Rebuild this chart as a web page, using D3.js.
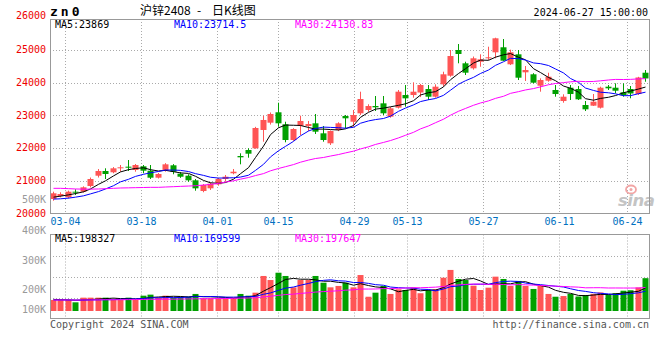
<!DOCTYPE html>
<html><head><meta charset="utf-8">
<script src="https://cdn.jsdelivr.net/npm/d3@7"></script>
<style>body{margin:0;background:#fff;} svg{display:block;}</style>
</head><body>
<svg id="c" width="660" height="360"></svg>
<script>
// ---------------- DATA ----------------
const dates = ["02-29","03-01","03-04","03-05","03-06","03-07","03-08","03-11","03-12","03-13",
"03-14","03-15","03-18","03-19","03-20","03-21","03-22","03-25","03-26","03-27",
"03-28","03-29","04-01","04-02","04-03","04-08","04-09","04-10","04-11","04-12",
"04-15","04-16","04-17","04-18","04-19","04-22","04-23","04-24","04-25","04-26",
"04-29","04-30","05-06","05-07","05-08","05-09","05-10","05-13","05-14","05-15",
"05-16","05-17","05-20","05-21","05-22","05-23","05-24","05-27","05-28","05-29",
"05-30","05-31","06-03","06-04","06-05","06-06","06-07","06-11","06-12","06-13",
"06-14","06-17","06-18","06-19","06-20","06-21","06-24","06-25","06-26","06-27"];

const open  = [20443,20535,20495,20667,20667,20841,21156,21300,21260,21382,
21432,21330,21443,21309,21095,21309,21474,21217,21156,21015,
20688,20770,20893,21055,21230,21758,21942,21994,22554,22777,
23095,22728,22248,22685,22676,22758,22452,22147,22554,22982,
22807,23064,23165,23287,23369,22961,23236,23623,23623,23700,
23807,23572,23950,24214,25000,24593,24440,24642,24746,24929,
25083,24563,24868,24318,24257,23908,24061,23777,23440,23847,
23807,23318,23297,23236,23878,23847,23706,23807,23654,24305];
const close = [20618,20596,20667,20636,20801,21055,21300,21208,21382,21413,
21400,21483,21309,21095,21208,21504,21278,21125,21015,20770,
20872,20911,21055,21125,21278,21718,21829,22615,22860,23043,
22758,22248,22584,22829,22737,22502,22248,22523,22758,22911,
23012,23501,23287,23247,23064,23216,23725,23522,23725,23929,
23572,23878,24257,24816,24878,24306,24746,24715,24777,25358,
24673,24930,24153,24388,24000,24082,24183,23654,23572,23654,
23492,23186,23419,23847,23828,23755,23620,23670,24160,24130];
const high  = [20667,20648,20700,20740,20830,21100,21360,21382,21420,21483,
21636,21514,21483,21483,21240,21540,21510,21270,21200,21055,
20900,20950,21090,21177,21361,21841,21994,22650,22991,23090,
23388,22807,22610,22991,22830,23043,22676,22540,22790,23012,
23165,23725,23340,23593,23593,23260,23777,23929,24012,23960,
23929,23950,24336,25000,25183,24642,24800,24868,25101,25376,
25336,25010,25000,24510,24290,24134,24305,23929,23645,23929,
23900,23440,23654,23878,23929,23980,23980,23899,24180,24388];
const low   = [20391,20495,20460,20566,20640,20800,21100,21055,21230,21278,
21300,21278,21230,21055,21070,21280,21200,21090,20970,20697,
20650,20720,20850,20972,21199,21504,21706,21980,22196,22720,
22654,22177,22220,22400,22520,22431,22196,22095,22520,22605,
22654,23012,23110,23134,23012,22930,23210,23266,23541,23560,
23471,23541,23878,24183,24593,24235,24400,24489,24694,24746,
24664,24540,24082,24052,23980,23725,24030,23572,23388,23471,
23471,23134,23287,23210,23777,23675,23572,23523,23623,24030];
const volume = [95000,95000,95000,75000,115000,115000,115000,115000,95000,95000,
115000,101000,132000,141000,115000,132000,115000,123000,123000,147000,
110000,110000,110000,110000,115000,147000,132000,158000,302000,267000,
330000,302000,204000,267000,267000,302000,244000,204000,216000,244000,
204000,310000,123000,158000,216000,147000,187000,181000,201000,153000,
181000,187000,287000,354000,276000,267000,218000,181000,201000,296000,
276000,216000,259000,216000,190000,216000,147000,123000,129000,147000,
125000,138000,148000,160000,140000,153000,175000,179000,203000,283000];

// moving-average values at the left edge (need days before the window)
const ma5Head  = [20500,20530,20570,20610];
const ma10Head = [20440,20450,20470,20500,20540,20600,20670,20750,20850];
const ma30Head = [20770,20770,20760,20750,20745,20745,20750,20760,20770,20780,
20785,20790,20795,20800,20800,20810,20820,20830,20840,20850,
20870,20890,20920,20960,21000,21050,21100,21160,21220];
const vma5Head  = [100000,98000,96000,92000];
const vma10Head = [95000,95000,95000,94000,94000,95000,96000,97000,98000];
const vma30Head = [95000,95000,95000,94000,95000,96000,96000,97000,97000,97000,
98000,99000,100000,101000,101000,102000,102000,103000,104000,105000,
105000,106000,107000,108000,109000,111000,112000,114000,121000];

const priceTicks = [20000,21000,22000,23000,24000,25000,26000];
const volTicks = [100000,200000,300000,400000];
const volTickLabels = ["100K","200K","300K","400K"];
const dateTicks = ["03-04","03-18","04-01","04-15","04-29","05-13","05-27","06-11","06-24"];
const maText  = ["MA5:23869","MA10:23714.5","MA30:24130.83"];
const vmaText = ["MA5:198327","MA10:169599","MA30:197647"];

// ---------------- LAYOUT ----------------
const svg = d3.select("#c");
const L = 50, R = 650;
const mTop = 19, mBot = 213.5;
const vTop = 234.5, vBot = 318.5, vBase = 311;
const RED = "#ff5555", GREEN = "#00a000", GRID = "#aaa", BORDER = "#999";
const MONO = "'DejaVu Sans Mono', monospace";
const maColors = ["#000000", "#0000ff", "#ff00ff"];

const xBand = d3.scaleBand().domain(dates).range([L, R]);
const xGrid = d3.scalePoint().domain(dates).range([L, R]);
const bw = 6;
const cx = d => Math.floor(xBand(d)) + 3.5;
const yP = d3.scaleLinear().domain([20000, 26000]).range([mBot, 17.3]);
const yV = d3.scaleLinear().domain([0, 100000]).range([vBase, vBase - 11.6]);
const yVLabel = d3.scaleLinear().domain(volTicks).range([313.3, 293.3, 264.3, 234]);

function movingAvg(vals, n, head) {
  return vals.map((v, i) => i < n - 1 ? head[i] : d3.mean(vals.slice(i - n + 1, i + 1)));
}

const defs = svg.append("defs");
defs.append("clipPath").attr("id", "cm").append("rect")
  .attr("x", L).attr("y", mTop).attr("width", R - L).attr("height", mBot - mTop);
defs.append("clipPath").attr("id", "cv").append("rect")
  .attr("x", L).attr("y", vTop).attr("width", R - L).attr("height", vBot - vTop);

// ---------------- GRID ----------------
const grid = svg.append("g").attr("stroke", GRID).attr("stroke-dasharray", "1,2").attr("stroke-width", 1);
priceTicks.filter(t => t > 20000 && t < 26000).forEach(t => {
  const y = Math.round(yP(t)) + 0.5;
  grid.append("line").attr("x1", L).attr("x2", R).attr("y1", y).attr("y2", y);
});
[1, 2, 3].forEach(k => {
  const y = Math.round(vTop + (vBot - vTop) * k / 4) + 0.5;
  grid.append("line").attr("x1", L).attr("x2", R).attr("y1", y).attr("y2", y);
});
dateTicks.forEach(d => {
  const x = Math.round(xGrid(d)) + 0.5;
  grid.append("line").attr("x1", x).attr("x2", x).attr("y1", mTop).attr("y2", mBot);
  grid.append("line").attr("x1", x).attr("x2", x).attr("y1", vTop).attr("y2", vBot);
});

// sina watermark
const wm = svg.append("g");
wm.append("ellipse").attr("cx", 631).attr("cy", 189.5).attr("rx", 5).attr("ry", 4)
  .attr("fill", "none").attr("stroke", "#f2a5a5").attr("stroke-width", 1.8);
wm.append("circle").attr("cx", 631).attr("cy", 189.5).attr("r", 1.5).attr("fill", "#f2a5a5");
wm.append("text").attr("x", 618).attr("y", 205.5).text("sina")
  .attr("font-family", "'DejaVu Sans', sans-serif").attr("font-size", 16.5).attr("font-weight", "bold")
  .attr("font-style", "italic").attr("fill", "#c4c4c4").attr("letter-spacing", -0.5);

// ---------------- CANDLES ----------------
const candles = svg.append("g").attr("clip-path", "url(#cm)");
dates.forEach((d, i) => {
  const up = close[i] >= open[i];
  const col = up ? RED : GREEN;
  const x = Math.floor(xBand(d));
  candles.append("line").attr("x1", x + 3.5).attr("x2", x + 3.5)
    .attr("y1", yP(high[i])).attr("y2", yP(low[i])).attr("stroke", col).attr("stroke-width", 1);
  const y1 = yP(Math.max(open[i], close[i])), y2 = yP(Math.min(open[i], close[i]));
  candles.append("rect").attr("x", x + 0.5).attr("width", bw).attr("y", y1)
    .attr("height", Math.max(1, y2 - y1)).attr("fill", col);
});

const line = (ys) => d3.line().x((d, i) => cx(dates[i])).y(d => ys(d));
const priceMAs = [movingAvg(close, 5, ma5Head), movingAvg(close, 10, ma10Head), movingAvg(close, 30, ma30Head)];
const maG = svg.append("g").attr("clip-path", "url(#cm)");
priceMAs.forEach((arr, k) => {
  maG.append("path").attr("d", line(yP)(arr)).attr("fill", "none")
    .attr("stroke", maColors[k]).attr("stroke-width", 1);
});

// ---------------- VOLUME ----------------
const vol = svg.append("g").attr("clip-path", "url(#cv)");
dates.forEach((d, i) => {
  const col = close[i] >= open[i] ? RED : GREEN;
  const x = Math.floor(xBand(d));
  vol.append("rect").attr("x", x + 0.5).attr("width", bw)
    .attr("y", yV(volume[i])).attr("height", vBase - yV(volume[i])).attr("fill", col);
});
const volMAs = [movingAvg(volume, 5, vma5Head), movingAvg(volume, 10, vma10Head), movingAvg(volume, 30, vma30Head)];
volMAs.forEach((arr, k) => {
  vol.append("path").attr("d", line(yV)(arr)).attr("fill", "none")
    .attr("stroke", maColors[k]).attr("stroke-width", 1);
});

// ---------------- BORDERS ----------------
const b = svg.append("g").attr("fill", "none").attr("stroke", BORDER).attr("stroke-width", 1);
b.append("rect").attr("x", L + 0.5).attr("y", mTop + 0.5).attr("width", 599).attr("height", mBot - mTop - 0.5);
b.append("rect").attr("x", L + 0.5).attr("y", vTop).attr("width", 599).attr("height", vBot - vTop);

// ---------------- TEXT ----------------
const txt = (x, y, s, opt = {}) => svg.append("text").attr("x", x).attr("y", y).text(s)
  .attr("font-family", opt.font || MONO).attr("font-size", opt.size || 10)
  .attr("fill", opt.fill || "#000").attr("text-anchor", opt.anchor || "start")
  .attr("font-weight", opt.weight || "normal").attr("letter-spacing", opt.ls || 0);

txt(50, 15.5, "zn0", { size: 13, weight: "bold", ls: 3 });
txt(140, 15, "沪锌2408", { font: "'Noto Sans CJK SC', sans-serif", size: 12 });
txt(197, 15, "-", { font: "'Noto Sans CJK SC', sans-serif", size: 12 });
txt(212, 15, "日K线图", { font: "'Noto Sans CJK SC', sans-serif", size: 12 });
txt(648, 15.7, "2024-06-27 15:00:00", { anchor: "end" });

const maX = [55, 174, 295];
maText.forEach((s, k) => txt(maX[k], 27.5, s, { fill: maColors[k] }));
vmaText.forEach((s, k) => txt(maX[k], 242, s, { fill: maColors[k] }));

priceTicks.forEach(t => txt(46, Math.min(yP(t) + 3.3, t === 26000 ? 18.8 : 999), String(t), { anchor: "end", fill: "#ee0000" }));
txt(46, 203.3, "500K", { anchor: "end", fill: "#999" });
volTicks.forEach((t, k) => txt(46, yVLabel(t), volTickLabels[k], { anchor: "end", fill: "#999" }));
dateTicks.forEach(d => txt(Math.round(xGrid(d)) + 0.5, 224.5, d, { anchor: "middle", fill: "#0070c0" }));

txt(50, 327.5, "Copyright 2024 SINA.COM", { fill: "#555" });
txt(649, 327.5, "http://finance.sina.com.cn", { anchor: "end", fill: "#555" });
</script>
</body></html>
